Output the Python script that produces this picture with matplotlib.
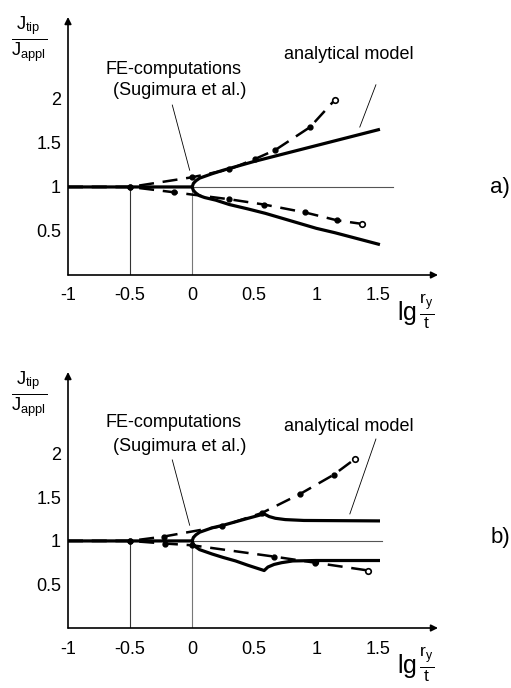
import numpy as np
import matplotlib.pyplot as plt

plt.rcParams['font.family'] = ['Liberation Sans', 'DejaVu Sans']
plt.rcParams['mathtext.fontset'] = 'custom'
plt.rcParams['mathtext.rm'] = 'Liberation Sans'
plt.rcParams['mathtext.it'] = 'Liberation Sans'

# ── data ────────────────────────────────────────────────
x_ticks = [-1, -0.5, 0, 0.5, 1, 1.5]
y_ticks = [0.5, 1, 1.5, 2]

# panel a) analytical model
a_up_x = [-1, 0, 0.01, 0.03, 0.06, 0.1, 0.16, 0.25, 0.35, 0.5, 1.0, 1.5]
a_up_y = [1, 1, 1.04, 1.07, 1.10, 1.12, 1.15, 1.19, 1.23, 1.29, 1.47, 1.65]
a_lo_x = [0, 0.01, 0.03, 0.06, 0.1, 0.19, 0.3, 0.45, 0.59, 1.0, 1.15, 1.5]
a_lo_y = [1, 0.96, 0.93, 0.90, 0.88, 0.85, 0.80, 0.75, 0.70, 0.53, 0.48, 0.35]
# panel a) FE-computations (Sugimura et al.)
a_fe_up_x = [-1, -0.5, 0, 0.30, 0.51, 0.67, 0.95, 1.15]
a_fe_up_y = [1, 1, 1.11, 1.20, 1.32, 1.42, 1.68, 1.99]
a_fe_lo_x = [-1, -0.5, -0.15, 0.30, 0.58, 0.91, 1.17, 1.37]
a_fe_lo_y = [1, 1, 0.94, 0.86, 0.80, 0.71, 0.62, 0.58]

# panel b) analytical model
b_up_x = [-1, 0, 0.01, 0.03, 0.06, 0.1, 0.16, 0.25, 0.35, 0.45, 0.58,
          0.62, 0.67, 0.75, 0.9, 1.5]
b_up_y = [1, 1, 1.04, 1.07, 1.10, 1.12, 1.15, 1.18, 1.22, 1.26, 1.31,
          1.28, 1.26, 1.245, 1.235, 1.23]
b_lo_x = [0, 0.01, 0.03, 0.06, 0.1, 0.16, 0.25, 0.35, 0.45, 0.58,
          0.61, 0.66, 0.72, 0.81, 1.0, 1.5]
b_lo_y = [1, 0.96, 0.93, 0.90, 0.88, 0.85, 0.81, 0.77, 0.72, 0.66,
          0.70, 0.73, 0.75, 0.77, 0.775, 0.775]
# panel b) FE-computations (Sugimura et al.)
b_fe_up_x = [-1, -0.5, -0.23, 0.24, 0.56, 0.87, 1.14, 1.31]
b_fe_up_y = [1, 1, 1.05, 1.17, 1.32, 1.54, 1.76, 1.94]
b_fe_lo_x = [-1, -0.5, -0.22, 0, 0.66, 0.99, 1.42]
b_fe_lo_y = [1, 1, 0.97, 0.95, 0.82, 0.75, 0.66]

fig = plt.figure(figsize=(5.11, 6.88), dpi=100)

panels = [
    dict(rect=[68/511, 1-275/688, 370/511, 258/688], tag='a)', tag_y=1-188/688,
         up=(a_up_x, a_up_y), lo=(a_lo_x, a_lo_y),
         fe_up=(a_fe_up_x, a_fe_up_y), fe_lo=(a_fe_lo_x, a_fe_lo_y),
         hline_end=1.62, fe_txt_y=2.33, sug_txt_y=2.10, am_txt_y=2.50,
         fe_lead=((-0.16, 1.93), (-0.02, 1.19)),
         am_lead=((1.48, 2.16), (1.35, 1.68)), ylim=2.93),
    dict(rect=[68/511, 1-628/688, 370/511, 256/688], tag='b)', tag_y=1-537/688,
         up=(b_up_x, b_up_y), lo=(b_lo_x, b_lo_y),
         fe_up=(b_fe_up_x, b_fe_up_y), fe_lo=(b_fe_lo_x, b_fe_lo_y),
         hline_end=1.53, fe_txt_y=2.36, sug_txt_y=2.09, am_txt_y=2.31,
         fe_lead=((-0.16, 1.93), (-0.02, 1.18)),
         am_lead=((1.48, 2.17), (1.27, 1.31)), ylim=2.94),
]

for p in panels:
    ax = fig.add_axes(p['rect'])
    ax.set_xlim(-1, 1.98)
    ax.set_ylim(0, p['ylim'])
    for s in ax.spines.values():
        s.set_visible(False)

    # axes with arrows
    ax.annotate('', xy=(1.98, 0), xytext=(-1, 0), annotation_clip=False,
                arrowprops=dict(arrowstyle='-|>', color='black', lw=1.2,
                                mutation_scale=10, shrinkA=0, shrinkB=0))
    ax.annotate('', xy=(-1, p['ylim']), xytext=(-1, 0), annotation_clip=False,
                arrowprops=dict(arrowstyle='-|>', color='black', lw=1.2,
                                mutation_scale=10, shrinkA=0, shrinkB=0))

    # thin helper lines
    ax.plot([-1, p['hline_end']], [1, 1], color='#555555', lw=0.8)
    ax.plot([-0.5, -0.5], [0, 1], color='#333333', lw=0.8)
    ax.plot([0, 0], [0, 1], color='#777777', lw=0.8)

    # FE-computations: dashed with dots, open circle at the end
    for fx, fy in (p['fe_up'], p['fe_lo']):
        ax.plot(fx, fy, color='black', lw=1.8, dashes=(6, 3.5))
        ax.plot(fx[1:-1], fy[1:-1], 'o', color='black', ms=3.5)
        ax.plot(fx[-1], fy[-1], 'o', mfc='white', mec='black', ms=4, mew=1.2)

    # analytical model: solid
    ax.plot(*p['up'], color='black', lw=2.3, solid_joinstyle='round')
    ax.plot(*p['lo'], color='black', lw=2.3, solid_joinstyle='round')

    ax.set_xticks(x_ticks)
    ax.set_xticklabels(['-1', '-0.5', '0', '0.5', '1', '1.5'])
    ax.set_yticks(y_ticks)
    ax.set_yticklabels(['0.5', '1', '1.5', '2'])
    ax.tick_params(axis='x', length=0, pad=9, labelsize=13)
    ax.tick_params(axis='y', length=0, pad=5, labelsize=13)

    # annotations
    ax.text(-0.15, p['fe_txt_y'], 'FE-computations', ha='center', va='center',
            fontsize=13)
    ax.text(-0.10, p['sug_txt_y'], '(Sugimura et al.)', ha='center',
            va='center', fontsize=13)
    ax.plot(*zip(*p['fe_lead']), color='black', lw=0.6)
    ax.text(1.26, p['am_txt_y'], 'analytical model', ha='center', va='center',
            fontsize=13)
    ax.plot(*zip(*p['am_lead']), color='black', lw=0.6)

    # axis labels
    ax.text(-1.31, p['ylim'] + 0.02,
            r'$\frac{\mathrm{J}_{\mathrm{tip}}}{\mathrm{J}_{\mathrm{appl}}}$',
            ha='center', va='top', fontsize=19)
    ax.text(1.80, -0.42, r'$\mathrm{lg}\,\frac{\mathrm{r}_{\mathrm{y}}}{\mathrm{t}}$',
            ha='center', va='center', fontsize=18)

    fig.text(500/511, p['tag_y'], p['tag'], ha='center', va='center',
             fontsize=16)

fig.savefig('out.png', dpi=100)
